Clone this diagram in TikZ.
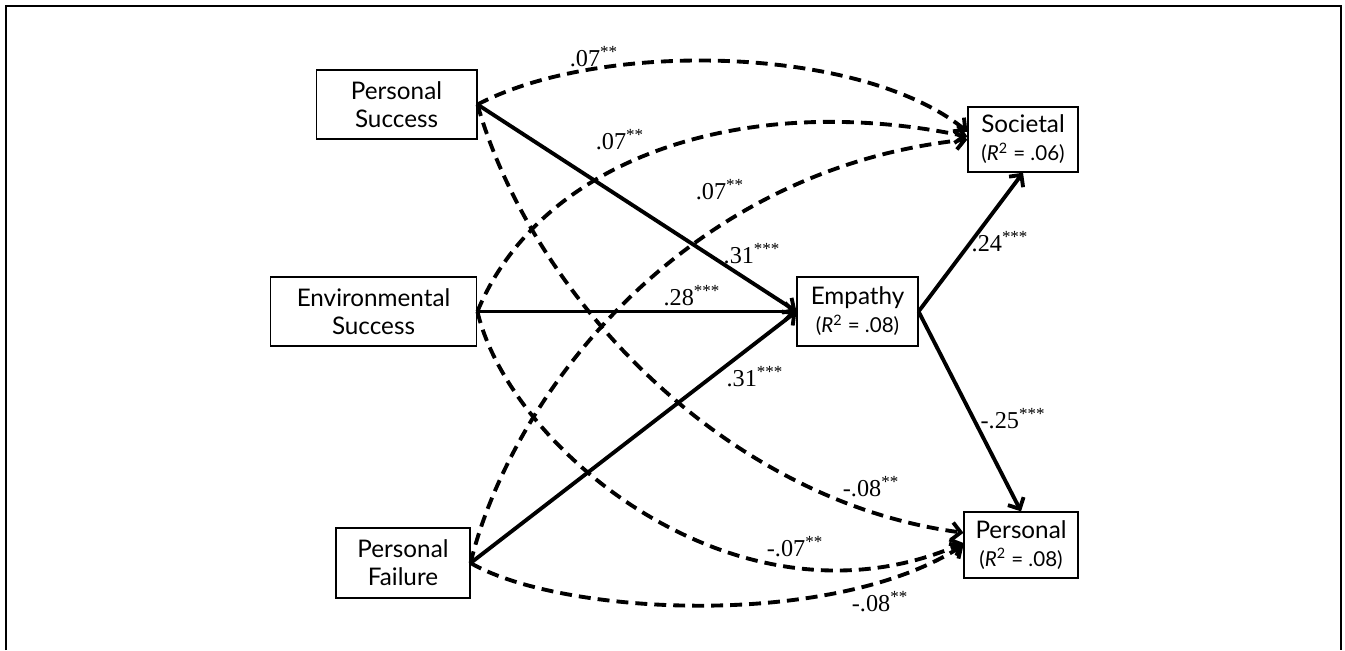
\documentclass[tikz,border=0pt]{standalone}
\usepackage{fontspec}
\setmainfont{Liberation Serif}
\newfontfamily\boxfont{Lato}
\usetikzlibrary{arrows.meta}

\begin{document}
\begin{tikzpicture}[x=0.02cm,y=-0.02cm,
    box/.style={draw,line width=0.9pt,align=center,inner sep=0pt,
        font=\boxfont\fontsize{13.8}{16}\selectfont},
    coef/.style={inner sep=0pt,font=\fontsize{13.8}{16}\selectfont},
    arr/.style={line width=2.2pt,-{Straight Barb[length=5pt,width=10pt]}},
    darr/.style={arr,dash pattern=on 6.8pt off 4pt}]
    \def\rsq#1{{\fontsize{11.7}{14}\selectfont(\textit{R}\textsuperscript{2} = #1)}}
    \useasboundingbox (0,0) rectangle (1345,650);
    \draw[line width=1.1pt] (6,650) -- (6,6) -- (1341,6) -- (1341,650);

    % predictors
    \node[box,minimum width=91.3pt,minimum height=39.1pt] (ps) at (396.5,104.5) {Personal\\Success};
    \node[box,minimum width=117.4pt,minimum height=39.1pt] (es) at (373.5,311.5) {Environmental\\Success};
    \node[box,minimum width=76pt,minimum height=39.7pt] (pf) at (403,563) {Personal\\Failure};
    % mediator and outcomes
    \node[box,minimum width=68.6pt,minimum height=39.1pt] (emp) at (857.5,311.5) {Empathy\\\rsq{.08}};
    \node[box,minimum width=62.4pt,minimum height=36.9pt] (soc) at (1023,139.5) {Societal\\\rsq{.06}};
    \node[box,minimum width=64.6pt,minimum height=37.4pt] (pers) at (1021,545) {Personal\\\rsq{.08}};

    % direct paths
    \foreach \s in {ps,es,pf}
        \draw[arr] (\s.east) -- (emp.west);
    \draw[arr] (emp.east) -- (soc.south);
    \draw[arr] (emp.east) -- (pers.north);

    % indirect paths
    \draw[darr] (ps.east) .. controls (600,40) and (860,45) .. (soc.172);
    \draw[darr] (ps.east) .. controls (530,290) and (720,500) .. (pers.168);
    \draw[darr] (es.east) .. controls (540,160) and (740,90) .. (soc.177);
    \draw[darr] (es.east) .. controls (510,450) and (740,640) .. (pers.178);
    \draw[darr] (pf.east) .. controls (510,400) and (680,170) .. (soc.west);
    \draw[darr] (pf.east) .. controls (560,615) and (830,630) .. (pers.west);

    % coefficients
    \node[coef] (c1) at (594,57) {.07\textsuperscript{**}};
    \node[coef] (c2) at (620,140) {.07\textsuperscript{**}};
    \node[coef] (c3) at (720,190) {.07\textsuperscript{**}};
    \node[coef] (c4) at (752,254) {.31\textsuperscript{***}};
    \node[coef] (c5) at (692,296) {.28\textsuperscript{***}};
    \node[coef] (c6) at (755,377) {.31\textsuperscript{***}};
    \node[coef] (c7) at (1000,242) {.24\textsuperscript{***}};
    \node[coef] (c8) at (1013,419) {-.25\textsuperscript{***}};
    \node[coef] (c9) at (871,487) {-.08\textsuperscript{**}};
    \node[coef] (c10) at (795,547) {-.07\textsuperscript{**}};
    \node[coef] (c11) at (880,602) {-.08\textsuperscript{**}};
\end{tikzpicture}
\end{document}
